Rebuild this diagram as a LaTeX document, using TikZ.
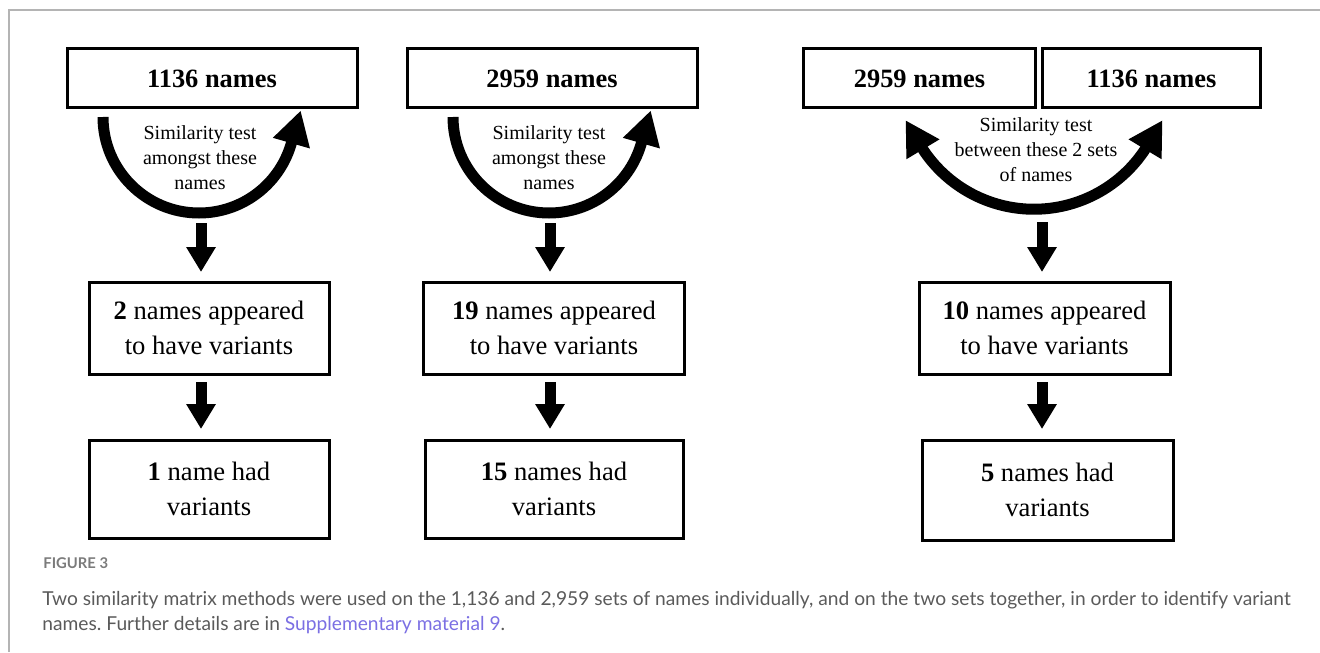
\documentclass[tikz,border=0pt]{standalone}
\usepackage{fontspec}
\setmainfont{Liberation Serif}
\newfontfamily\capfont{Lato}
\usepackage{xcolor}
\usetikzlibrary{arrows.meta,positioning,calc}
\definecolor{framegrey}{HTML}{B4B4B4}
\definecolor{capgrey}{HTML}{5A5A5A}
\definecolor{linkblue}{HTML}{7B6FE3}
\tikzset{
  namebox/.style={draw,line width=1.5pt,align=center,inner sep=0pt,outer sep=0pt,
    minimum height=29.5pt,font=\fontsize{13.2}{17.5}\selectfont\bfseries},
  resultbox/.style={draw,line width=1.5pt,align=center,inner sep=0pt,outer sep=0pt,
    minimum height=46pt,font=\fontsize{13.3}{17.5}\selectfont},
  testlabel/.style={align=center,font=\fontsize{10}{12.5}\selectfont},
  fatarrow/.style={line width=5.5pt,-{Triangle[length=12.5pt,width=14pt]}},
  looparrow/.style={line width=5.5pt,-{Triangle[length=17pt,width=18pt]}},
  twinarrow/.style={line width=5.5pt,{Triangle[length=17pt,width=18pt]}-{Triangle[length=17pt,width=18pt]}}
}
\frenchspacing

\begin{document}
\begin{tikzpicture}[x=0.5pt,y=-0.5pt]
  \useasboundingbox (0,0) rectangle (1320,652);
  % frame
  \draw[framegrey,line width=1pt] (9,652) -- (9,10) -- (1320,10);

  % column 1: 1136 names on their own
  \node[namebox,minimum width=145pt] (top1) at (212,78.5) {1136 names};
  \node[resultbox,minimum width=120pt,below=87pt of top1.south,anchor=north,xshift=-1.5pt] (mid1) {\textbf{2} names appeared\\to have variants};
  \node[resultbox,minimum width=120pt,minimum height=49pt,below=33pt of mid1.south,anchor=north] (low1) {\textbf{1} name had\\variants};
  \coordinate (tail1) at (103,117);
  \draw[looparrow] (tail1) arc[start angle=180,end angle=17,radius=96] -- ++(-74:36);
  \node[testlabel] (test1) at (200,158) {Similarity test\\amongst these\\names};
  \coordinate (dip1) at (201,223);
  \draw[fatarrow,shorten >=5pt] (dip1) -- (dip1 |- mid1.north);
  \draw[fatarrow,shorten <=4pt,shorten >=5.5pt] (dip1 |- mid1.south) -- (dip1 |- low1.north);

  % column 2: 2959 names on their own
  \node[namebox,minimum width=145pt] (top2) at (552,78.5) {2959 names};
  \node[resultbox,minimum width=130.5pt,below=87pt of top2.south,anchor=north,xshift=1pt] (mid2) {\textbf{19} names appeared\\to have variants};
  \node[resultbox,minimum width=129pt,minimum height=49pt,below=33pt of mid2.south,anchor=north] (low2) {\textbf{15} names had\\variants};
  \coordinate (tail2) at (453,117);
  \draw[looparrow] (tail2) arc[start angle=180,end angle=17,radius=96] -- ++(-74:36);
  \node[testlabel] (test2) at (549,158) {Similarity test\\amongst these\\names};
  \coordinate (dip2) at (550,223);
  \draw[fatarrow,shorten >=5pt] (dip2) -- (dip2 |- mid2.north);
  \draw[fatarrow,shorten <=4pt,shorten >=5.5pt] (dip2 |- mid2.south) -- (dip2 |- low2.north);

  % column 3: both sets against each other
  \node[namebox,minimum width=116pt] (top3a) at (919.5,78.5) {2959 names};
  \node[namebox,minimum width=109pt,right=3.5pt of top3a] (top3b) {1136 names};
  \node[resultbox,minimum width=125.5pt] (mid3) at (1044.5,328) {\textbf{10} names appeared\\to have variants};
  \node[resultbox,minimum width=125.5pt,minimum height=50pt,below=33pt of mid3.south,anchor=north,xshift=1.5pt] (low3) {\textbf{5} names had\\variants};
  \coordinate (twinL) at (924,151);
  \draw[twinarrow] ($(twinL)+(-121:36)$) -- (twinL) arc[start angle=145.8,end angle=34.2,radius=133] -- ++(-59:36);
  \node[testlabel] (test3) at (1036,150) {Similarity test\\between these 2 sets\\of names};
  \coordinate (dip3) at (1042,222);
  \draw[fatarrow,shorten >=5pt] (dip3) -- (dip3 |- mid3.north);
  \draw[fatarrow,shorten <=4pt,shorten >=5.5pt] (dip3 |- mid3.south) -- (dip3 |- low3.north);

  % caption
  \node[anchor=west,inner sep=0pt,text=capgrey!80,font=\capfont\fontsize{7.4}{9}\selectfont\bfseries] (figno) at (43,563) {FIGURE 3};
  \node[anchor=north west,inner sep=0pt,align=left,text=capgrey,font=\capfont\fontsize{9.6}{12.5}\selectfont] (caption) at (42,591)
    {Two similarity matrix methods were used on the 1,136 and 2,959 sets of names individually, and on the two sets together, in order to identify variant\\
     names. Further details are in \textcolor{linkblue}{Supplementary material 9}.};
\end{tikzpicture}
\end{document}
